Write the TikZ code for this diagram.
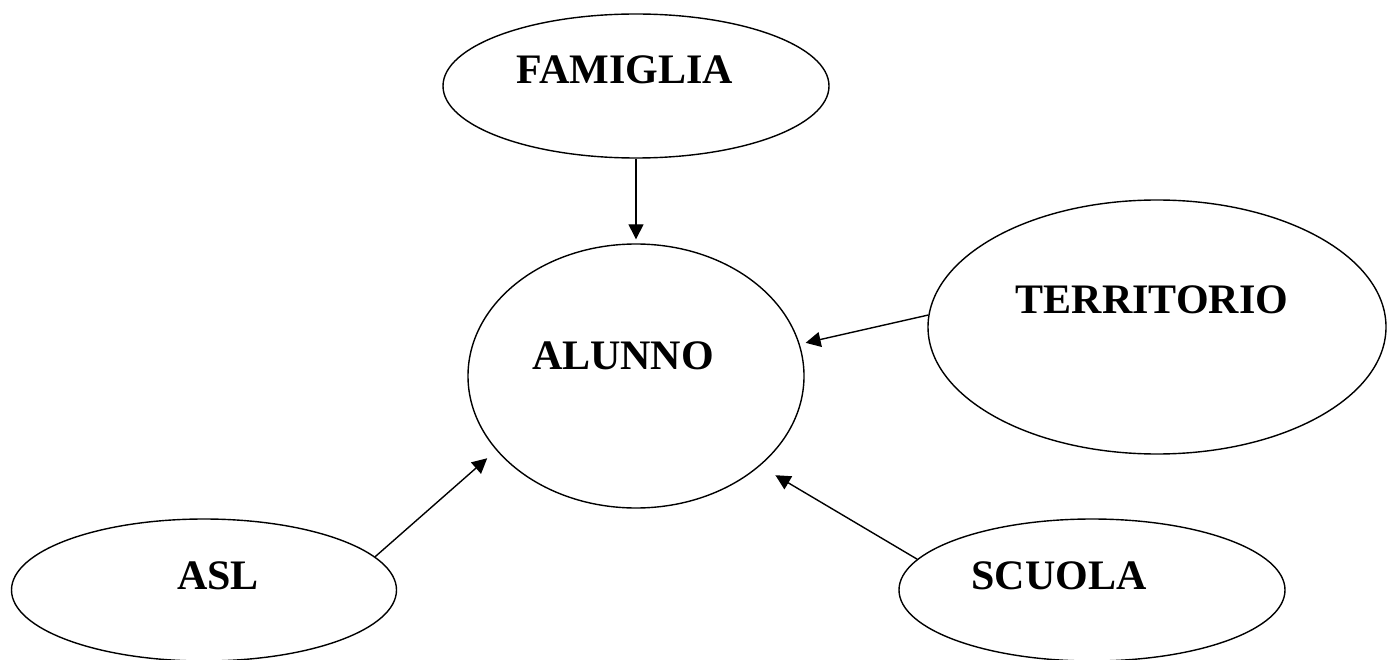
\documentclass[tikz,border=0pt]{standalone}
\usepackage{fontspec}
\setmainfont{Liberation Serif}
\usetikzlibrary{positioning}
\usetikzlibrary{shapes.geometric}
\usetikzlibrary{arrows.meta}

\begin{document}
\begin{tikzpicture}[x=1pt, y=-1pt, line width=1.4pt,
    >={Triangle[length=15pt,width=15pt]},
    ell/.style={draw, ellipse, inner sep=0pt},
    lbl/.style={anchor=base, font=\bfseries\fontsize{42}{50}\selectfont}]
    \useasboundingbox (0, 0) rectangle (1389, 660);

    \path (636, 86) node [ell, minimum width=386, minimum height=144] (fa) {};
    \path (625, 84) node [lbl] (fat) {FAMIGLIA};
    \path (636, 376) node [ell, minimum width=336, minimum height=264] (al) {};
    \path (623, 369) node [lbl] (alt) {ALUNNO};
    \path (1157, 327) node [ell, minimum width=458, minimum height=254] (te) {};
    \path (1152, 313) node [lbl] (tet) {TERRITORIO};
    \path (204, 590) node [ell, minimum width=385, minimum height=142] (as) {};
    \path (218, 589) node [lbl] (ast) {ASL};
    \path (1092, 590) node [ell, minimum width=386, minimum height=142] (sc) {};
    \path (1059, 589) node [lbl] (sct) {SCUOLA};

    \draw [->, shorten >=4pt] (fa.south) -- (al.north);
    \draw [->, shorten >=6pt] (te.177) -- (al.11);
    \draw [->, shorten >=12pt] (as.11) -- (al.208);
    \draw [->, shorten >=18pt] (sc.170) -- (al.324);
\end{tikzpicture}
\end{document}
